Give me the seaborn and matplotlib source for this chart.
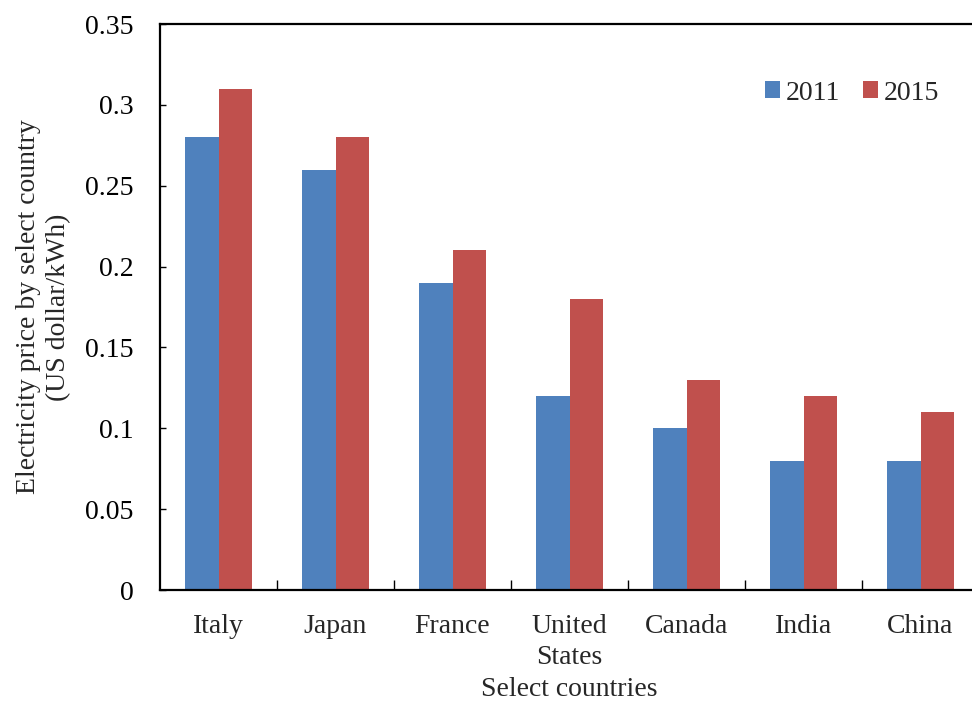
import pandas as pd
import matplotlib.pyplot as plt
import seaborn as sns
from matplotlib.ticker import FixedLocator

countries = ['Italy', 'Japan', 'France', 'United\nStates', 'Canada', 'India', 'China']
price_2011 = [0.28, 0.26, 0.19, 0.12, 0.10, 0.08, 0.08]
price_2015 = [0.31, 0.28, 0.21, 0.18, 0.13, 0.12, 0.11]
years = ['2011', '2015']
colors = ['#4F81BD', '#C0504D']

df = pd.DataFrame({
    'Country': countries * 2,
    'Year': [years[0]] * len(countries) + [years[1]] * len(countries),
    'Price': price_2011 + price_2015,
})

sns.set_style('white')
plt.rcParams['font.family'] = ['Liberation Serif', 'DejaVu Serif']
fs = 20

fig = plt.figure(figsize=(9.72, 7.01), dpi=100)
ax = fig.add_axes([160 / 972, 111 / 701, 819 / 972, 566 / 701])

sns.barplot(data=df, x='Country', y='Price', hue='Year', palette=colors,
            width=0.57, saturation=1, linewidth=0, ax=ax, errorbar=None)

ax.set_ylim(0, 0.35)
ax.set_xlim(-0.5, len(countries) - 0.5)
ax.set_yticks([0, 0.05, 0.1, 0.15, 0.2, 0.25, 0.3, 0.35])
ax.set_yticklabels(['0', '0.05', '0.1', '0.15', '0.2', '0.25', '0.3', '0.35'])
ax.tick_params(axis='y', direction='in', length=4, width=1, pad=19,
               labelsize=fs, left=True, colors='black')
ax.tick_params(axis='x', which='major', length=0, pad=17, labelsize=fs)
ax.xaxis.set_minor_locator(FixedLocator([i + 0.5 for i in range(len(countries) - 1)]))
ax.tick_params(axis='x', which='minor', direction='in', length=7, width=1,
               bottom=True, color='black')
for lbl in ax.get_xticklabels():
    lbl.set_linespacing(1.35)

for side in ['left', 'bottom', 'top', 'right']:
    ax.spines[side].set_visible(True)
    ax.spines[side].set_color('black')
    ax.spines[side].set_linewidth(1.6)

ax.set_xlabel('Select countries', fontsize=fs, labelpad=5)
ax.set_ylabel('Electricity price by select country\n(US dollar/kWh)',
              fontsize=fs, labelpad=10, linespacing=1.25)

ax.legend(loc='center left', bbox_to_anchor=(754 / 972, 1 - 93 / 701),
          bbox_transform=fig.transFigure, ncol=2, frameon=False,
          fontsize=fs, handlelength=0.55, handleheight=0.55,
          handletextpad=0.2, columnspacing=0.8, borderaxespad=0)

fig.savefig('out.png', dpi=100)
